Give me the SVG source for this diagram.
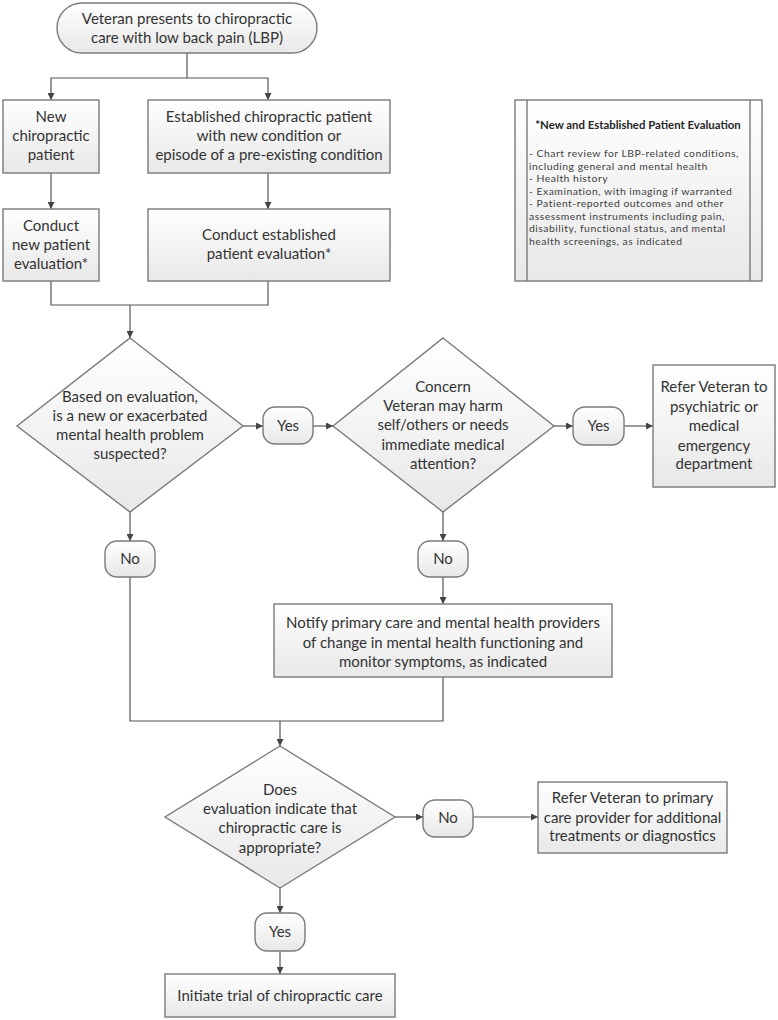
<svg xmlns="http://www.w3.org/2000/svg" width="778" height="1020" viewBox="0 0 778 1020">
<style>
.shape{fill:url(#g);stroke:#7a7a7a;stroke-width:1.4}
.t{font-family:Lato,"Liberation Sans",sans-serif;font-size:15px;fill:#333;text-anchor:middle}
.n{font-family:Lato,"Liberation Sans",sans-serif;font-size:10.4px;letter-spacing:0.5px;fill:#404040}
.nb{font-family:Lato,"Liberation Sans",sans-serif;font-size:11.4px;font-weight:bold;fill:#262626;text-anchor:middle}
.c{fill:none;stroke:#555;stroke-width:1.2;marker-end:url(#a)}
.c0{fill:none;stroke:#555;stroke-width:1.2}
</style>
<defs>
<linearGradient id="g" x1="0" y1="0" x2="0" y2="1">
<stop offset="0" stop-color="#ffffff"/>
<stop offset="1" stop-color="#e8e8e8"/>
</linearGradient>
<marker id="a" viewBox="0 0 10 10" refX="10" refY="5" markerWidth="7" markerHeight="7" markerUnits="userSpaceOnUse" orient="auto">
<path d="M0 0 L10 5 L0 10 z" fill="#444"/>
</marker>
</defs>
<rect width="778" height="1020" fill="#fff"/>
<g id="connectors">
<path class="c" d="M187 53 V78 H51 V100"/>
<path class="c" d="M187 78 H268 V100"/>
<path class="c" d="M51 173 V209"/>
<path class="c" d="M268 173 V209"/>
<path class="c0" d="M51 281 V305 H268 V281"/>
<path class="c" d="M130 305 V338"/>
<path class="c" d="M243 426 H263"/>
<path class="c" d="M313 426 H333"/>
<path class="c" d="M554 426 H573"/>
<path class="c" d="M624 426 H653"/>
<path class="c" d="M130 512 V541"/>
<path class="c" d="M443 512 V541"/>
<path class="c" d="M443 577 V604"/>
<path class="c0" d="M130 577 V721 H443 V677"/>
<path class="c" d="M280 721 V746"/>
<path class="c" d="M395 817 H423"/>
<path class="c" d="M473 817 H538"/>
<path class="c" d="M280 888 V913"/>
<path class="c" d="M280 951 V974"/>
</g>
<g id="start">
<rect class="shape" x="57" y="3" width="260" height="50" rx="25"/>
<text class="t" x="187" y="24">Veteran presents to chiropractic</text>
<text class="t" x="187" y="43">care with low back pain (LBP)</text>
</g>
<g id="new-patient">
<rect class="shape" x="3" y="100" width="96" height="73"/>
<text class="t" x="51" y="122">New</text>
<text class="t" x="51" y="141">chiropractic</text>
<text class="t" x="51" y="160">patient</text>
</g>
<g id="established-patient">
<rect class="shape" x="148" y="100" width="242" height="73"/>
<text class="t" x="269" y="122">Established chiropractic patient</text>
<text class="t" x="269" y="141">with new condition or</text>
<text class="t" x="269" y="160">episode of a pre-existing condition</text>
</g>
<g id="conduct-new">
<rect class="shape" x="3" y="209" width="96" height="72"/>
<text class="t" x="51" y="231">Conduct</text>
<text class="t" x="51" y="250">new patient</text>
<text class="t" x="51" y="269">evaluation*</text>
</g>
<g id="conduct-established">
<rect class="shape" x="148" y="209" width="242" height="72"/>
<text class="t" x="269" y="240">Conduct established</text>
<text class="t" x="269" y="259">patient evaluation*</text>
</g>
<g id="note">
<rect class="shape" x="515" y="100" width="247" height="181"/>
<line x1="527" y1="100" x2="527" y2="281" stroke="#7a7a7a" stroke-width="1.4"/>
<line x1="750" y1="100" x2="750" y2="281" stroke="#7a7a7a" stroke-width="1.4"/>
<text class="nb" x="638" y="129">*New and Established Patient Evaluation</text>
<text class="n" x="529" y="157">- Chart review for LBP-related conditions,</text>
<text class="n" x="529" y="169.5">including general and mental health</text>
<text class="n" x="529" y="182">- Health history</text>
<text class="n" x="529" y="194.5">- Examination, with imaging if warranted</text>
<text class="n" x="529" y="207">- Patient-reported outcomes and other</text>
<text class="n" x="529" y="219.5">assessment instruments including pain,</text>
<text class="n" x="529" y="232">disability, functional status, and mental</text>
<text class="n" x="529" y="244.5">health screenings, as indicated</text>
</g>
<g id="decision-mental">
<polygon class="shape" points="130,338 243,426 130,512 17,426"/>
<text class="t" x="130" y="402">Based on evaluation,</text>
<text class="t" x="130" y="421">is a new or exacerbated</text>
<text class="t" x="130" y="440">mental health problem</text>
<text class="t" x="130" y="459">suspected?</text>
</g>
<g id="yes-1">
<rect class="shape" x="263" y="407" width="50" height="37" rx="12"/>
<text class="t" x="288" y="431">Yes</text>
</g>
<g id="decision-harm">
<polygon class="shape" points="443,338 554,426 443,512 333,426"/>
<text class="t" x="443" y="392">Concern</text>
<text class="t" x="443" y="411">Veteran may harm</text>
<text class="t" x="443" y="430">self/others or needs</text>
<text class="t" x="443" y="450">immediate medical</text>
<text class="t" x="443" y="469">attention?</text>
</g>
<g id="yes-2">
<rect class="shape" x="573" y="407" width="51" height="38" rx="12"/>
<text class="t" x="598.5" y="431">Yes</text>
</g>
<g id="refer-emergency">
<rect class="shape" x="653" y="365" width="122" height="122"/>
<text class="t" x="714" y="392">Refer Veteran to</text>
<text class="t" x="714" y="412">psychiatric or</text>
<text class="t" x="714" y="431">medical</text>
<text class="t" x="714" y="451">emergency</text>
<text class="t" x="714" y="469">department</text>
</g>
<g id="no-1">
<rect class="shape" x="105" y="541" width="50" height="36" rx="12"/>
<text class="t" x="130" y="564">No</text>
</g>
<g id="no-2">
<rect class="shape" x="418" y="541" width="50" height="36" rx="12"/>
<text class="t" x="443" y="564">No</text>
</g>
<g id="notify">
<rect class="shape" x="274" y="604" width="338" height="73"/>
<text class="t" x="443" y="628">Notify primary care and mental health providers</text>
<text class="t" x="443" y="648">of change in mental health functioning and</text>
<text class="t" x="443" y="667">monitor symptoms, as indicated</text>
</g>
<g id="decision-appropriate">
<polygon class="shape" points="280,746 395,817 280,888 165,817"/>
<text class="t" x="280" y="795">Does</text>
<text class="t" x="280" y="814">evaluation indicate that</text>
<text class="t" x="280" y="833">chiropractic care is</text>
<text class="t" x="280" y="853">appropriate?</text>
</g>
<g id="no-3">
<rect class="shape" x="423" y="800" width="50" height="37" rx="12"/>
<text class="t" x="448" y="823">No</text>
</g>
<g id="refer-primary">
<rect class="shape" x="538" y="782" width="189" height="71"/>
<text class="t" x="632.5" y="803">Refer Veteran to primary</text>
<text class="t" x="632.5" y="823">care provider for additional</text>
<text class="t" x="632.5" y="841">treatments or diagnostics</text>
</g>
<g id="yes-3">
<rect class="shape" x="255" y="913" width="50" height="38" rx="12"/>
<text class="t" x="280" y="937">Yes</text>
</g>
<g id="initiate">
<rect class="shape" x="165" y="974" width="230" height="43"/>
<text class="t" x="280" y="1001">Initiate trial of chiropractic care</text>
</g>
</svg>
